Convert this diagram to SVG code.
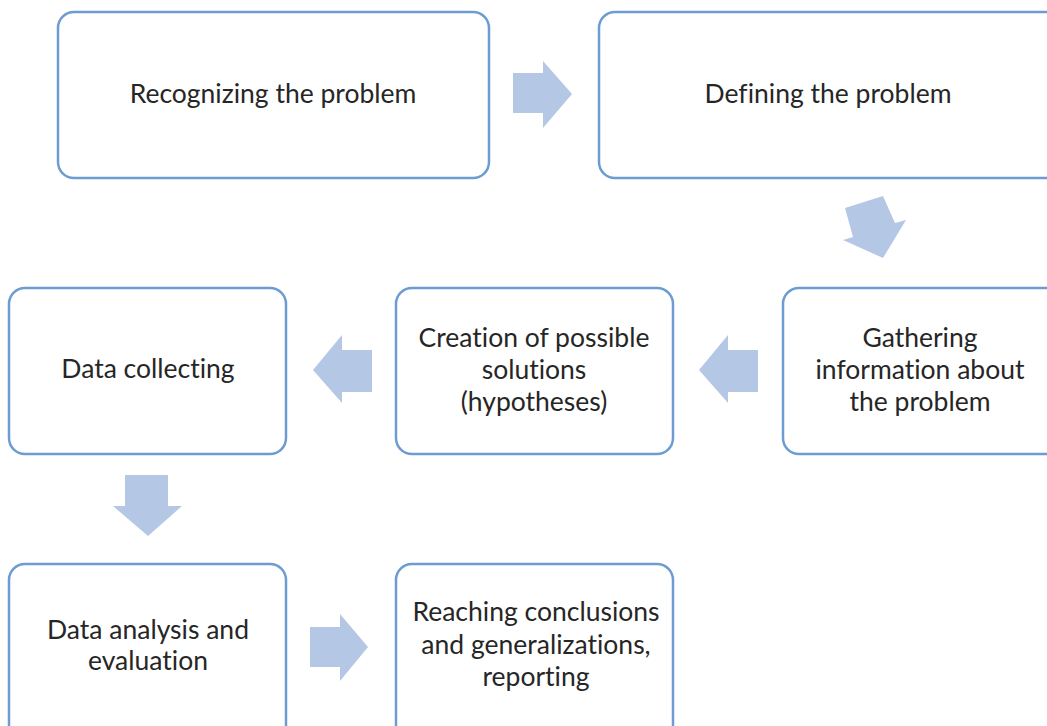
<svg xmlns="http://www.w3.org/2000/svg" width="1047" height="726" viewBox="0 0 1047 726">
<style>
.box{fill:#ffffff;stroke:#6c9cd2;stroke-width:2.5}
.arr{fill:#b4c8e6}
text{font-family:Lato,"Open Sans",sans-serif;font-size:26.5px;fill:#262626;text-anchor:middle;font-variant-ligatures:none}
</style>
<rect width="1047" height="726" fill="#ffffff"/>
<g id="connectors">
<polygon class="arr" points="513,73 543,73 543,61 572,94 543,128 543,113 513,113"/>
<polygon class="arr" points="845,208 883,196 895,223 906,220 883,258 843,240 853,237"/>
<polygon class="arr" points="372,350 342,350 342,335 313,370 342,403 342,392 372,392"/>
<polygon class="arr" points="758,350 728,350 728,335 699,370 728,403 728,392 758,392"/>
<polygon class="arr" points="125,475 168,475 168,506 182,506 148,536 113,506 125,506"/>
<polygon class="arr" points="310,627 340,627 340,614 368,647 340,681 340,667 310,667"/>
</g>
<g id="n1"><rect class="box" x="58" y="12" width="431" height="166" rx="16"/><text x="273" y="103">Recognizing the problem</text></g>
<g id="n2"><rect class="box" x="599" y="12" width="470" height="166" rx="16"/><text x="828" y="103">Defining the problem</text></g>
<g id="n3"><rect class="box" x="783" y="288" width="290" height="166" rx="16"/><text x="920" y="347">Gathering</text><text x="920" y="379">information about</text><text x="920" y="411">the problem</text></g>
<g id="n4"><rect class="box" x="396" y="288" width="277" height="166" rx="16"/><text x="534" y="347">Creation of possible</text><text x="534" y="379">solutions</text><text x="534" y="411">(hypotheses)</text></g>
<g id="n5"><rect class="box" x="9" y="288" width="277" height="166" rx="16"/><text x="148" y="378">Data collecting</text></g>
<g id="n6"><rect class="box" x="9" y="564" width="277" height="180" rx="16"/><text x="148" y="639">Data analysis and</text><text x="148" y="670">evaluation</text></g>
<g id="n7"><rect class="box" x="396" y="564" width="277" height="180" rx="16"/><text x="536" y="621">Reaching conclusions</text><text x="536" y="654">and generalizations,</text><text x="536" y="686">reporting</text></g>
</svg>
